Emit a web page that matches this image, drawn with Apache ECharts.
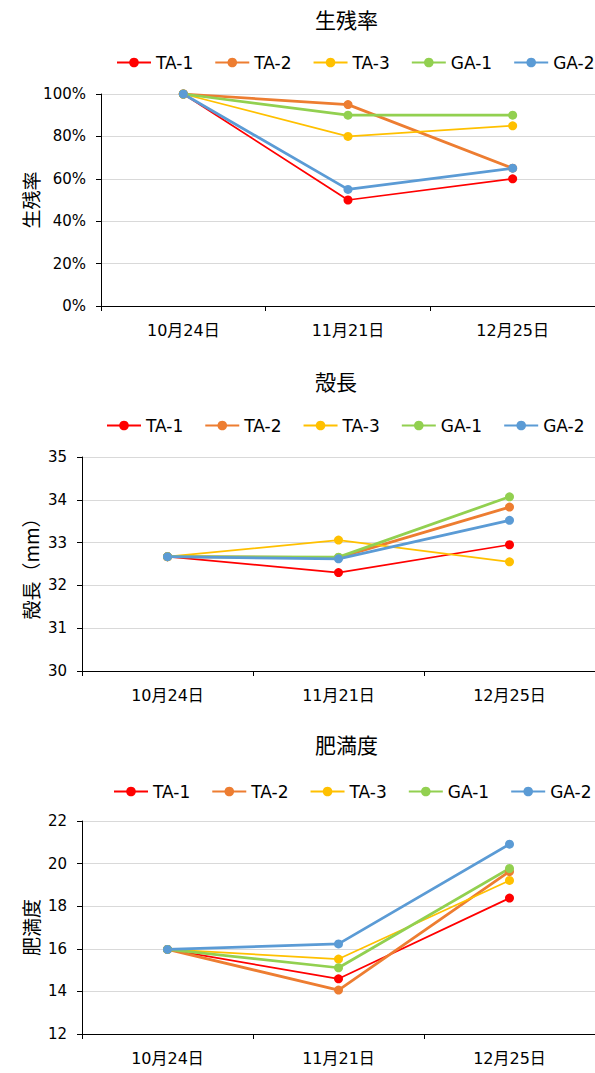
<!DOCTYPE html>
<html>
<head>
<meta charset="utf-8">
<script src="https://cdn.jsdelivr.net/npm/echarts@6/dist/echarts.min.js"></script>
<style>
  html, body { margin: 0; padding: 0; background: #fff; overflow: hidden; }
  #chart { width: 595px; height: 1073px; }
</style>
</head>
<body>
<div id="chart"></div>
<script>
// Sampling dates and experimental groups
const dates = ['10月24日', '11月21日', '12月25日'];
const groups = ['TA-1', 'TA-2', 'TA-3', 'GA-1', 'GA-2'];
const groupColors = ['#FF0000', '#ED7D31', '#FFC000', '#92D050', '#5B9BD5'];

// One row per group (same order as `groups`), one value per date
const survivalRate = [      // %
  [100, 50, 60],
  [100, 95, 65],
  [100, 80, 85],
  [100, 90, 90],
  [100, 55, 65]
];
const shellLength = [       // mm
  [32.67, 32.30, 32.95],
  [32.67, 32.65, 33.83],
  [32.67, 33.06, 32.55],
  [32.67, 32.66, 34.07],
  [32.67, 32.62, 33.52]
];
const conditionIndex = [
  [15.97, 14.59, 18.38],
  [15.97, 14.06, 19.63],
  [15.97, 15.52, 19.21],
  [15.97, 15.11, 19.77],
  [15.97, 16.23, 20.91]
];

const panelTitles = ['生残率', '殻長', '肥満度'];
const axisNames = ['生残率', '殻長（mm）', '肥満度'];
const yMin = [0, 30, 12];
const yMax = [100, 35, 22];
const yStep = [20, 1, 2];
const yUnit = ['%', '', ''];

const panelData = [survivalRate, shellLength, conditionIndex];

// Panel geometry (pixels)
const layout = [
  { titleTop: 8,   legendLeft: 116, legendTop: 54,  left: 101, top: 94,  width: 503, height: 212, nameGap: 61 },
  { titleTop: 370, legendLeft: 106, legendTop: 417, left: 82,  top: 457, width: 522, height: 214, nameGap: 42 },
  { titleTop: 733, legendLeft: 113, legendTop: 783, left: 82,  top: 821, width: 522, height: 213, nameGap: 42 }
];
const lineWidths = [1.75, 2.75, 1.75, 2.75, 2.75];

const latinFont = "'DejaVu Sans', 'Noto Sans CJK JP', sans-serif";
const cjkFont = "'Noto Sans CJK JP', 'DejaVu Sans', sans-serif";

const option = {
  animation: false,
  backgroundColor: '#fff',
  title: [], legend: [], grid: [], xAxis: [], yAxis: [], series: []
};

layout.forEach((p, i) => {
  option.title.push({
    text: panelTitles[i], left: 315, top: p.titleTop, padding: 0,
    textStyle: { fontFamily: cjkFont, fontSize: 21, fontWeight: 'normal', color: '#000' }
  });
  option.legend.push({
    data: groups, left: p.legendLeft, top: p.legendTop, padding: 0,
    itemWidth: 34, itemHeight: 12, itemGap: 21, selectedMode: false,
    textStyle: { fontFamily: latinFont, fontSize: 17, color: '#000' }
  });
  option.grid.push({ left: p.left, top: p.top, width: p.width, height: p.height });
  option.xAxis.push({
    gridIndex: i, type: 'category', data: dates, boundaryGap: true,
    axisLine: { show: true, lineStyle: { color: '#000', width: 1 } },
    axisTick: { show: true, length: 5, lineStyle: { color: '#000' } },
    axisLabel: { margin: 16, fontFamily: latinFont, fontSize: 16, color: '#000' },
    splitLine: { show: false }
  });
  option.yAxis.push({
    gridIndex: i, type: 'value', min: yMin[i], max: yMax[i], interval: yStep[i],
    name: axisNames[i], nameLocation: 'middle', nameGap: p.nameGap,
    nameMoveOverlap: false,
    nameTextStyle: { fontFamily: cjkFont, fontSize: 19, color: '#000' },
    axisLine: { show: true, lineStyle: { color: '#000', width: 1 } },
    axisTick: { show: true, length: 5, lineStyle: { color: '#000' } },
    axisLabel: { margin: 15, fontFamily: latinFont, fontSize: 15, color: '#000',
                 formatter: '{value}' + yUnit[i] },
    splitLine: { show: true, lineStyle: { color: '#d9d9d9', width: 1 } }
  });
  groups.forEach((g, k) => {
    option.series.push({
      name: g, type: 'line', xAxisIndex: i, yAxisIndex: i,
      data: panelData[i][k],
      symbol: 'circle', symbolSize: 9,
      color: groupColors[k],
      lineStyle: { color: groupColors[k], width: lineWidths[k] },
      itemStyle: { color: groupColors[k] }
    });
  });
});

const chart = echarts.init(document.getElementById('chart'), null, { renderer: 'svg' });
chart.setOption(option);
</script>
</body>
</html>
